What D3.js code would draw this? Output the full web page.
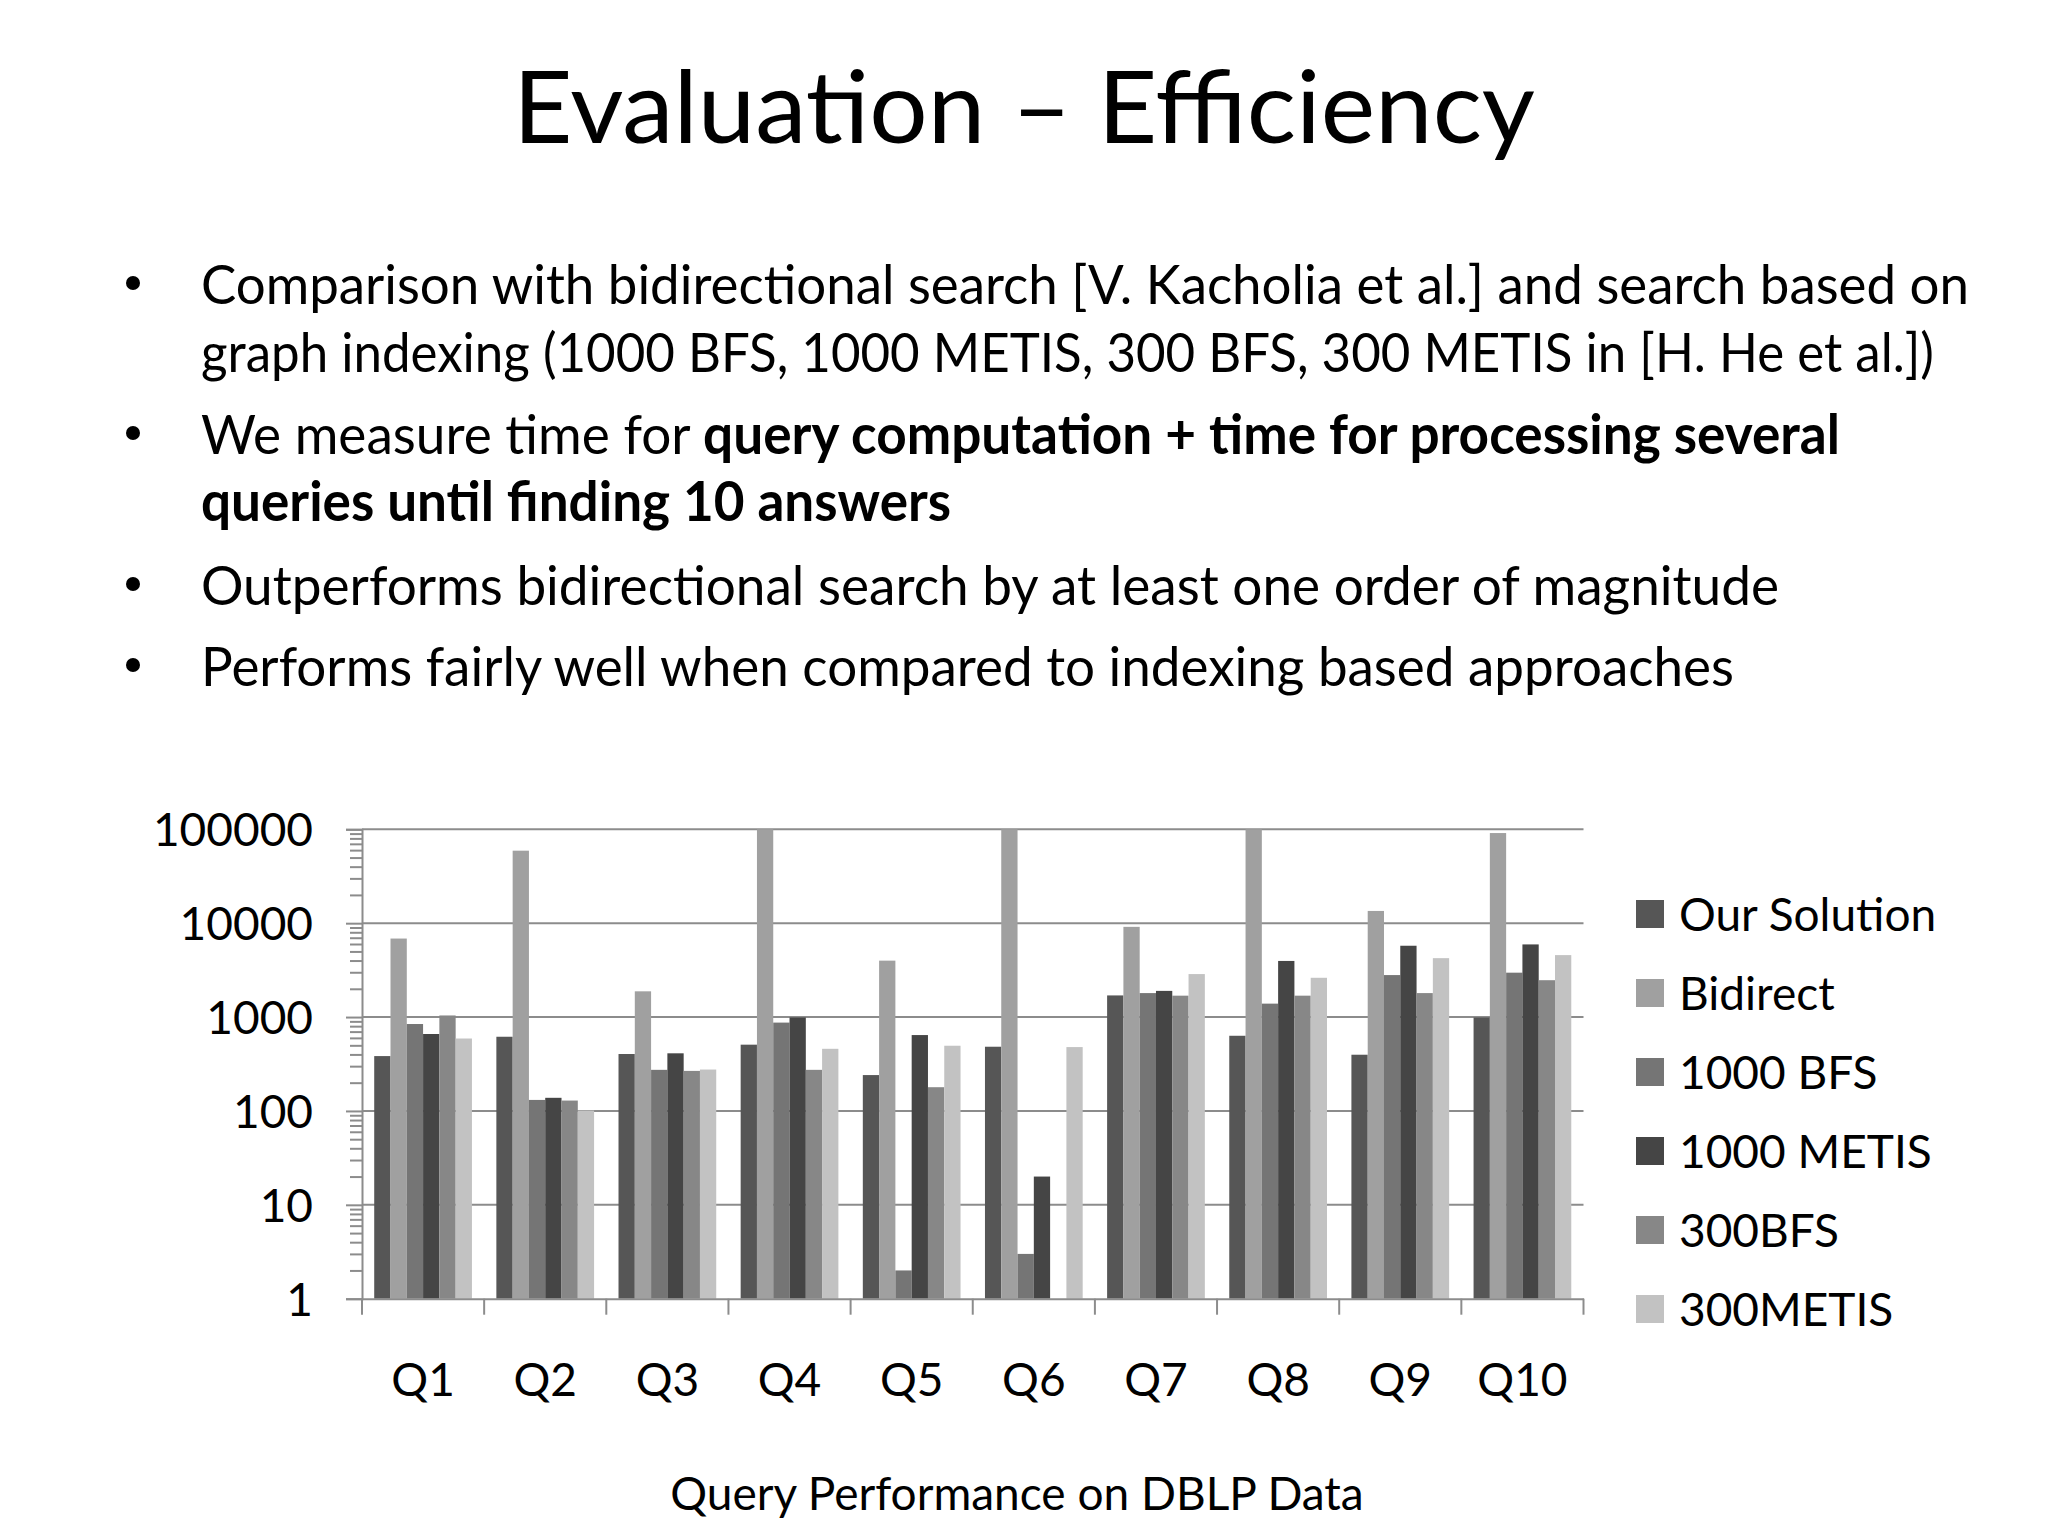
<!DOCTYPE html>
<html>
<head>
<meta charset="utf-8">
<script src="https://cdn.jsdelivr.net/npm/d3@7"></script>
<style>
  body { margin: 0; background: #fff; }
  text { font-family: Lato, "Open Sans", sans-serif; fill: #000; }
</style>
</head>
<body>
<svg class="slide" width="2048" height="1536"></svg>
<script>
const queries = ['Q1', 'Q2', 'Q3', 'Q4', 'Q5', 'Q6', 'Q7', 'Q8', 'Q9', 'Q10'];
const seriesNames = ['Our Solution', 'Bidirect', '1000 BFS', '1000 METIS', '300BFS', '300METIS'];
const seriesColors = ['#565656', '#a0a0a0', '#757575', '#454545', '#878787', '#c2c2c2'];

// milliseconds
const ourSolution = [384, 617, 404, 508, 241, 483, 1700, 632, 397, 990];
const bidirect    = [6860, 59200, 1880, 100000, 3990, 100000, 9140, 100000, 13500, 91200];
const bfs1000     = [843, 131, 274, 873, 2, 3, 1800, 1390, 2800, 2970];
const metis1000   = [660, 138, 411, 990, 643, 20, 1900, 3960, 5750, 5940];
const bfs300      = [1040, 129, 267, 274, 179, null, 1690, 1690, 1800, 2470];
const metis300    = [591, 101, 276, 459, 495, 479, 2870, 2620, 4240, 4570];

const yTicks = [1, 10, 100, 1000, 10000, 100000];

const allSeries = [ourSolution, bidirect, bfs1000, metis1000, bfs300, metis300];

const svg = d3.select('.slide');

// ---- slide text ----
svg.append('text')
  .attr('x', 1024).attr('y', 143)
  .attr('text-anchor', 'middle')
  .attr('font-size', 101)
  .attr('textLength', 1022).attr('lengthAdjust', 'spacingAndGlyphs')
  .text('Evaluation – Efficiency');

const bullets = [
  {y: 304, w: 1768, dot: true, parts: [['Comparison with bidirectional search [V. Kacholia et al.] and search based on', 400]]},
  {y: 372, w: 1733, dot: false, parts: [['graph indexing (1000 BFS, 1000 METIS, 300 BFS, 300 METIS in [H. He et al.])', 400]]},
  {y: 454, w: 1639, dot: true, parts: [['We measure time for ', 400], ['query computation + time for processing several', 700]]},
  {y: 521, w: 750, dot: false, parts: [['queries until finding 10 answers', 700]]},
  {y: 605, w: 1578, dot: true, parts: [['Outperforms bidirectional search by at least one order of magnitude', 400]]},
  {y: 686, w: 1533, dot: true, parts: [['Performs fairly well when compared to indexing based approaches', 400]]},
];

bullets.forEach(b => {
  if (b.dot) {
    svg.append('circle').attr('cx', 133).attr('cy', b.y - 21).attr('r', 7).attr('fill', '#000');
  }
  const t = svg.append('text')
    .attr('x', 201).attr('y', b.y)
    .attr('font-size', 55)
    .attr('textLength', b.w).attr('lengthAdjust', 'spacingAndGlyphs');
  b.parts.forEach(p => t.append('tspan').attr('font-weight', p[1]).text(p[0]));
});

// ---- chart ----
const plotLeft = 362, plotRight = 1583.5, plotTop = 829.3, plotBottom = 1298.7;
const gridColor = '#8c8c8c';
const labelSize = 46;

const x0 = d3.scaleBand().domain(queries).range([plotLeft, plotRight]);
const x1 = d3.scaleBand().domain(d3.range(seriesNames.length))
  .range([x0.bandwidth() * 0.1, x0.bandwidth() * 0.9]);
const y = d3.scaleLog().domain([1, 100000]).range([plotBottom, plotTop]).clamp(true);

const chart = svg.append('g');

// horizontal grid
chart.append('g')
  .selectAll('line')
  .data(yTicks.slice(1))
  .enter().append('line')
    .attr('x1', plotLeft).attr('x2', plotRight)
    .attr('y1', d => y(d)).attr('y2', d => y(d))
    .attr('stroke', gridColor).attr('stroke-width', 2);

// bars
const groups = chart.append('g')
  .selectAll('g')
  .data(queries)
  .enter().append('g')
    .attr('transform', q => `translate(${x0(q)},0)`);

groups.selectAll('rect')
  .data((q, qi) => allSeries.map((s, si) => ({si, v: s[qi]})).filter(d => d.v != null))
  .enter().append('rect')
    .attr('x', d => x1(d.si))
    .attr('width', x1.bandwidth())
    .attr('y', d => y(d.v))
    .attr('height', d => plotBottom - y(d.v))
    .attr('fill', d => seriesColors[d.si]);

// y axis: major ticks with labels, minor ticks for 2..9
const minorTicks = [];
yTicks.slice(0, -1).forEach(t => d3.range(2, 10).forEach(k => minorTicks.push(t * k)));

const yAxis = chart.append('g')
  .attr('transform', `translate(${plotLeft},0)`)
  .call(d3.axisLeft(y).tickValues(yTicks).tickFormat(d3.format('d')).tickSize(16).tickPadding(33));

chart.append('g')
  .attr('transform', `translate(${plotLeft},0)`)
  .call(d3.axisLeft(y).tickValues(minorTicks).tickFormat('').tickSize(12))
  .select('.domain').remove();

// x axis: labels at centres, ticks on category boundaries
const xAxis = chart.append('g')
  .attr('transform', `translate(0,${plotBottom})`)
  .call(d3.axisBottom(x0).tickSize(0));
xAxis.selectAll('text').attr('y', 97).attr('dy', 0);

chart.append('g')
  .selectAll('line')
  .data(queries.map(q => x0(q)).concat([plotRight]))
  .enter().append('line')
    .attr('x1', d => d).attr('x2', d => d)
    .attr('y1', plotBottom).attr('y2', plotBottom + 16)
    .attr('stroke', gridColor).attr('stroke-width', 2);

[yAxis, xAxis].forEach(a => {
  a.selectAll('.domain').attr('stroke', gridColor).attr('stroke-width', 2);
  a.selectAll('text').attr('font-size', labelSize).attr('fill', '#000')
    .attr('font-family', 'Lato, "Open Sans", sans-serif');
});
chart.selectAll('.tick line').attr('stroke', gridColor).attr('stroke-width', 2);
yAxis.selectAll('text').attr('dy', '0.36em');

// legend
const legend = svg.append('g')
  .selectAll('g')
  .data(seriesNames)
  .enter().append('g')
    .attr('transform', (d, i) => `translate(1636,${914 + i * 79})`);

legend.append('rect')
  .attr('x', 0).attr('y', -14).attr('width', 28).attr('height', 28)
  .attr('fill', (d, i) => seriesColors[i]);

legend.append('text')
  .attr('x', 43).attr('y', 0).attr('dy', '0.36em')
  .attr('font-size', labelSize)
  .text(d => d);

// caption
svg.append('text')
  .attr('x', 1017).attr('y', 1510)
  .attr('text-anchor', 'middle')
  .attr('font-size', labelSize)
  .text('Query Performance on DBLP Data');
</script>
</body>
</html>
